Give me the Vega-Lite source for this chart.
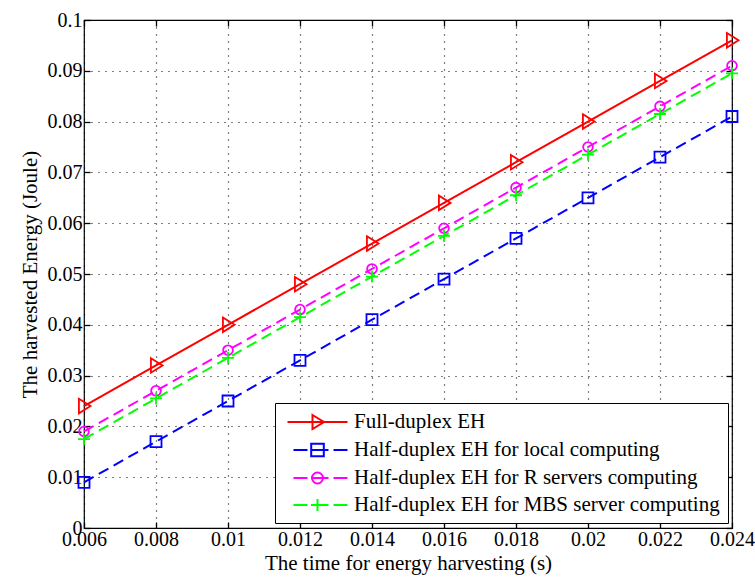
{
  "$schema": "https://vega.github.io/schema/vega-lite/v6.json",
  "width": 648,
  "height": 508,
  "autosize": "none",
  "padding": {"left": 84, "top": 20, "right": 23, "bottom": 53},
  "background": "white",
  "config": {
    "view": {"stroke": "black", "strokeWidth": 1.2},
    "font": "Liberation Serif",
    "axis": {
      "labelFont": "Liberation Serif",
      "titleFont": "Liberation Serif",
      "labelFontSize": 20,
      "titleFontSize": 21,
      "titleFontWeight": "normal",
      "labelColor": "black",
      "titleColor": "black",
      "tickColor": "black",
      "tickWidth": 1.3,
      "labelFlush": false,
      "domain": false
    }
  },
  "data": {
    "values": [
      {"t": 0.006, "e": 0.024, "s": "Full-duplex EH"},
      {"t": 0.008, "e": 0.032, "s": "Full-duplex EH"},
      {"t": 0.010, "e": 0.040, "s": "Full-duplex EH"},
      {"t": 0.012, "e": 0.048, "s": "Full-duplex EH"},
      {"t": 0.014, "e": 0.056, "s": "Full-duplex EH"},
      {"t": 0.016, "e": 0.064, "s": "Full-duplex EH"},
      {"t": 0.018, "e": 0.072, "s": "Full-duplex EH"},
      {"t": 0.020, "e": 0.080, "s": "Full-duplex EH"},
      {"t": 0.022, "e": 0.088, "s": "Full-duplex EH"},
      {"t": 0.024, "e": 0.096, "s": "Full-duplex EH"},
      {"t": 0.006, "e": 0.009, "s": "Half-duplex EH for local computing"},
      {"t": 0.008, "e": 0.017, "s": "Half-duplex EH for local computing"},
      {"t": 0.010, "e": 0.025, "s": "Half-duplex EH for local computing"},
      {"t": 0.012, "e": 0.033, "s": "Half-duplex EH for local computing"},
      {"t": 0.014, "e": 0.041, "s": "Half-duplex EH for local computing"},
      {"t": 0.016, "e": 0.049, "s": "Half-duplex EH for local computing"},
      {"t": 0.018, "e": 0.057, "s": "Half-duplex EH for local computing"},
      {"t": 0.020, "e": 0.065, "s": "Half-duplex EH for local computing"},
      {"t": 0.022, "e": 0.073, "s": "Half-duplex EH for local computing"},
      {"t": 0.024, "e": 0.081, "s": "Half-duplex EH for local computing"},
      {"t": 0.006, "e": 0.019, "s": "Half-duplex EH for R servers computing"},
      {"t": 0.008, "e": 0.027, "s": "Half-duplex EH for R servers computing"},
      {"t": 0.010, "e": 0.035, "s": "Half-duplex EH for R servers computing"},
      {"t": 0.012, "e": 0.043, "s": "Half-duplex EH for R servers computing"},
      {"t": 0.014, "e": 0.051, "s": "Half-duplex EH for R servers computing"},
      {"t": 0.016, "e": 0.059, "s": "Half-duplex EH for R servers computing"},
      {"t": 0.018, "e": 0.067, "s": "Half-duplex EH for R servers computing"},
      {"t": 0.020, "e": 0.075, "s": "Half-duplex EH for R servers computing"},
      {"t": 0.022, "e": 0.083, "s": "Half-duplex EH for R servers computing"},
      {"t": 0.024, "e": 0.091, "s": "Half-duplex EH for R servers computing"},
      {"t": 0.006, "e": 0.0175, "s": "Half-duplex EH for MBS server computing"},
      {"t": 0.008, "e": 0.0255, "s": "Half-duplex EH for MBS server computing"},
      {"t": 0.010, "e": 0.0335, "s": "Half-duplex EH for MBS server computing"},
      {"t": 0.012, "e": 0.0415, "s": "Half-duplex EH for MBS server computing"},
      {"t": 0.014, "e": 0.0495, "s": "Half-duplex EH for MBS server computing"},
      {"t": 0.016, "e": 0.0575, "s": "Half-duplex EH for MBS server computing"},
      {"t": 0.018, "e": 0.0655, "s": "Half-duplex EH for MBS server computing"},
      {"t": 0.020, "e": 0.0735, "s": "Half-duplex EH for MBS server computing"},
      {"t": 0.022, "e": 0.0815, "s": "Half-duplex EH for MBS server computing"},
      {"t": 0.024, "e": 0.0895, "s": "Half-duplex EH for MBS server computing"}
    ]
  },
  "resolve": {"axis": {"x": "independent", "y": "independent"}},
  "layer": [
    {
      "transform": [{"filter": "datum.s === 'Full-duplex EH'"}],
      "mark": {"type": "line", "strokeWidth": 2, "color": "#ff0000", "clip": false},
      "encoding": {
        "x": {
          "field": "t", "type": "quantitative",
          "scale": {"domain": [0.006, 0.024], "nice": false, "zero": false},
          "axis": {
            "orient": "bottom",
            "title": "The time for energy harvesting (s)",
            "values": [0.006, 0.008, 0.01, 0.012, 0.014, 0.016, 0.018, 0.02, 0.022, 0.024],
            "format": "~g",
            "tickSize": -6,
            "labelPadding": 7,
            "titlePadding": 3,
            "grid": true,
            "gridColor": "black",
            "gridDash": [1, 6],
            "gridOpacity": 1,
            "gridWidth": 1.2
          }
        },
        "y": {
          "field": "e", "type": "quantitative",
          "scale": {"domain": [0, 0.1], "nice": false, "zero": false},
          "axis": {
            "orient": "left",
            "title": "The harvested Energy (Joule)",
            "values": [0, 0.01, 0.02, 0.03, 0.04, 0.05, 0.06, 0.07, 0.08, 0.09, 0.1],
            "format": "~g",
            "tickSize": -6,
            "labelPadding": 8,
            "titlePadding": 7,
            "grid": true,
            "gridColor": "black",
            "gridDash": [1, 6],
            "gridOpacity": 1,
            "gridWidth": 1.2
          }
        }
      }
    },
    {
      "transform": [{"filter": "datum.s === 'Full-duplex EH'"}],
      "mark": {"type": "point", "filled": false, "strokeWidth": 1.8, "opacity": 1, "color": "#ff0000", "shape": "M-0.7,-1L0.9,0L-0.7,1Z", "size": 210, "clip": false},
      "encoding": {
        "x": {
          "field": "t", "type": "quantitative",
          "axis": {"orient": "top", "title": null, "labels": false, "grid": false, "tickSize": -6,
                   "values": [0.006, 0.008, 0.01, 0.012, 0.014, 0.016, 0.018, 0.02, 0.022, 0.024]}
        },
        "y": {
          "field": "e", "type": "quantitative",
          "axis": {"orient": "right", "title": null, "labels": false, "grid": false, "tickSize": -6,
                   "values": [0, 0.01, 0.02, 0.03, 0.04, 0.05, 0.06, 0.07, 0.08, 0.09, 0.1]}
        }
      }
    },
    {
      "transform": [{"filter": "datum.s === 'Half-duplex EH for local computing'"}],
      "mark": {"type": "line", "strokeWidth": 2, "color": "#0000ff", "strokeDash": [11, 6], "clip": false},
      "encoding": {
        "x": {"field": "t", "type": "quantitative", "axis": null},
        "y": {"field": "e", "type": "quantitative", "axis": null}
      }
    },
    {
      "transform": [{"filter": "datum.s === 'Half-duplex EH for local computing'"}],
      "mark": {"type": "point", "filled": false, "strokeWidth": 1.8, "opacity": 1, "color": "#0000ff", "shape": "square", "size": 121, "clip": false},
      "encoding": {
        "x": {"field": "t", "type": "quantitative", "axis": null},
        "y": {"field": "e", "type": "quantitative", "axis": null}
      }
    },
    {
      "transform": [{"filter": "datum.s === 'Half-duplex EH for R servers computing'"}],
      "mark": {"type": "line", "strokeWidth": 2, "color": "#ff00ff", "strokeDash": [11, 6], "clip": false},
      "encoding": {
        "x": {"field": "t", "type": "quantitative", "axis": null},
        "y": {"field": "e", "type": "quantitative", "axis": null}
      }
    },
    {
      "transform": [{"filter": "datum.s === 'Half-duplex EH for R servers computing'"}],
      "mark": {"type": "point", "filled": false, "strokeWidth": 1.8, "opacity": 1, "color": "#ff00ff", "shape": "circle", "size": 95, "clip": false},
      "encoding": {
        "x": {"field": "t", "type": "quantitative", "axis": null},
        "y": {"field": "e", "type": "quantitative", "axis": null}
      }
    },
    {
      "transform": [{"filter": "datum.s === 'Half-duplex EH for MBS server computing'"}],
      "mark": {"type": "line", "strokeWidth": 2, "color": "#00ff00", "strokeDash": [11, 6], "clip": false},
      "encoding": {
        "x": {"field": "t", "type": "quantitative", "axis": null},
        "y": {"field": "e", "type": "quantitative", "axis": null}
      }
    },
    {
      "transform": [{"filter": "datum.s === 'Half-duplex EH for MBS server computing'"}],
      "mark": {"type": "point", "filled": false, "strokeWidth": 1.8, "opacity": 1, "color": "#00ff00", "shape": "M-1,0H1M0,-1V1", "size": 144, "clip": false},
      "encoding": {
        "x": {"field": "t", "type": "quantitative", "axis": null},
        "y": {"field": "e", "type": "quantitative", "axis": null}
      }
    },
    {
      "mark": {"type": "point", "filled": false, "strokeWidth": 2, "opacity": 0, "size": 400, "clip": false},
      "encoding": {
        "x": {"field": "t", "type": "quantitative", "axis": null},
        "y": {"field": "e", "type": "quantitative", "axis": null},
        "color": {
          "field": "s", "type": "nominal",
          "scale": {
            "domain": ["Full-duplex EH", "Half-duplex EH for local computing", "Half-duplex EH for R servers computing", "Half-duplex EH for MBS server computing"],
            "range": ["#ff0000", "#0000ff", "#ff00ff", "#00ff00"]
          },
          "legend": {
            "title": null,
            "orient": "none",
            "legendX": 191,
            "legendY": 383,
            "padding": 8,
            "strokeColor": "black",
            "fillColor": "white",
            "symbolSize": 400,
            "symbolStrokeWidth": 2,
            "symbolOpacity": 1,
            "symbolOffset": 23.5,
            "labelOffset": 25.5,
            "labelFont": "Liberation Serif",
            "labelFontSize": 21,
            "labelColor": "black",
            "labelLimit": 500,
            "rowPadding": 6
          }
        },
        "shape": {
          "field": "s", "type": "nominal",
          "scale": {
            "domain": ["Full-duplex EH", "Half-duplex EH for local computing", "Half-duplex EH for R servers computing", "Half-duplex EH for MBS server computing"],
            "range": [
              "M-3,0H3M-0.5,-0.7L0.65,0L-0.5,0.7Z",
              "M-2.4,0H-1M-0.65,0H1.1M1.6,0H3M-0.63,-0.63H0.63V0.63H-0.63Z",
              "M-2.4,0H-1M-0.65,0H1.1M1.6,0H3M-0.55,0A0.55,0.55 0 1,0 0.55,0A0.55,0.55 0 1,0 -0.55,0Z",
              "M-2.4,0H-1M-0.65,0H1.1M1.6,0H3M-0.6,0H0.6M0,-0.6V0.6"
            ]
          },
          "legend": {
            "title": null,
            "orient": "none",
            "legendX": 191,
            "legendY": 383,
            "padding": 8,
            "strokeColor": "black",
            "fillColor": "white",
            "symbolSize": 400,
            "symbolStrokeWidth": 2,
            "symbolOpacity": 1,
            "symbolOffset": 23.5,
            "labelOffset": 25.5,
            "labelFont": "Liberation Serif",
            "labelFontSize": 21,
            "labelColor": "black",
            "labelLimit": 500,
            "rowPadding": 6
          }
        }
      }
    }
  ]
}
